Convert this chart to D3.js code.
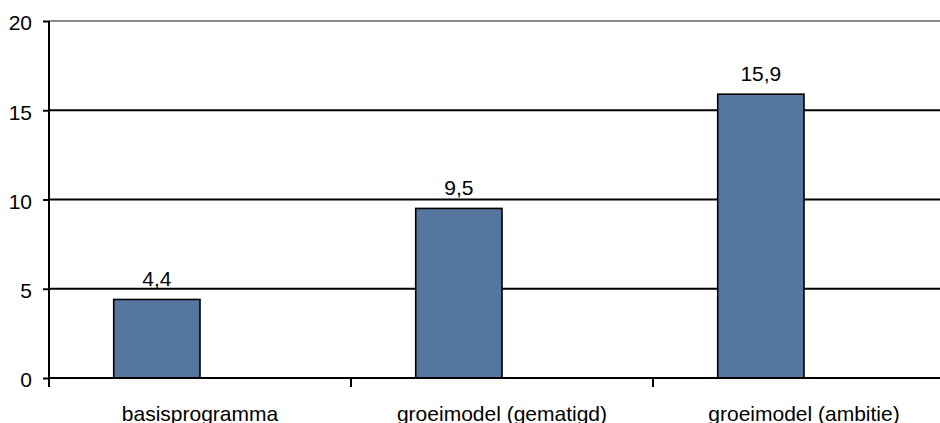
<!DOCTYPE html>
<html>
<head>
<meta charset="utf-8">
<script src="https://cdn.jsdelivr.net/npm/d3@7"></script>
<style>
  html, body { margin: 0; padding: 0; background: #ffffff; }
  svg { display: block; font-family: "Liberation Sans", Arial, sans-serif; }
</style>
</head>
<body>
<svg id="chart" width="940" height="423"></svg>
<script>
// Scenario categories and their values
const categories = ["basisprogramma", "groeimodel (gematigd)", "groeimodel (ambitie)"];
const values = [4.4, 9.5, 15.9];
// Slots per category: the filled series plus an empty companion slot
const seriesSlots = ["waarde", "leeg"];
const yTicks = [0, 5, 10, 15, 20];

const svg = d3.select("#chart");
const fontSize = 21;

const plotLeft = 49, plotTop = 21, plotBottom = 378;
const bandStep = 302;

const x = d3.scaleBand()
  .domain(categories)
  .range([plotLeft, plotLeft + bandStep * categories.length])
  .paddingInner(0)
  .paddingOuter(0);

const xSlot = d3.scaleBand()
  .domain(seriesSlots)
  .range([0, x.bandwidth()])
  .paddingInner(0)
  .paddingOuter(0.75);

const y = d3.scaleLinear().domain([0, 20]).range([plotBottom, plotTop]);

const nl = d3.formatLocale({ decimal: ",", thousands: ".", grouping: [3], currency: ["€ ", ""] });
const fmt = nl.format(".1f");

// Horizontal gridlines (the top line is the grey plot border)
svg.append("g")
  .selectAll("line")
  .data(yTicks.filter(t => t > 0))
  .join("line")
  .attr("x1", plotLeft)
  .attr("x2", 940)
  .attr("y1", d => y(d))
  .attr("y2", d => y(d))
  .attr("stroke", d => d === 20 ? "#8a8a8a" : "#000")
  .attr("stroke-width", 2);

// Bars
svg.append("g")
  .selectAll("rect")
  .data(values)
  .join("rect")
  .attr("x", (d, i) => x(categories[i]) + xSlot("waarde"))
  .attr("y", d => y(d))
  .attr("width", xSlot.bandwidth())
  .attr("height", d => y(0) - y(d))
  .attr("fill", "#54769f")
  .attr("stroke", "#000")
  .attr("stroke-width", 1.6);

// Value labels
svg.append("g")
  .selectAll("text")
  .data(values)
  .join("text")
  .attr("x", (d, i) => x(categories[i]) + xSlot("waarde") + xSlot.bandwidth() / 2)
  .attr("y", d => y(d) - 13)
  .attr("text-anchor", "middle")
  .attr("font-size", fontSize)
  .attr("fill", "#000")
  .text(d => fmt(d));

// Y axis
const yAxis = svg.append("g")
  .attr("transform", `translate(${plotLeft},0)`)
  .call(d3.axisLeft(y).tickValues(yTicks).tickSize(6).tickPadding(11).tickFormat(d3.format("d")));
yAxis.select(".domain").attr("stroke", "#000").attr("stroke-width", 2)
  .attr("d", `M0,${plotTop}V${plotBottom + 9}`);
yAxis.selectAll(".tick line").attr("stroke", "#000").attr("stroke-width", 2);
yAxis.selectAll(".tick text")
  .attr("font-size", fontSize)
  .attr("font-family", "'Liberation Sans', Arial, sans-serif")
  .attr("fill", "#000")
  .attr("dy", "0.42em");

// X axis line with ticks at category boundaries
const xAxisG = svg.append("g");
xAxisG.append("line")
  .attr("x1", plotLeft).attr("x2", 940)
  .attr("y1", y(0)).attr("y2", y(0))
  .attr("stroke", "#000").attr("stroke-width", 2);
xAxisG.selectAll("line.tick")
  .data(categories.slice(1))
  .join("line")
  .attr("class", "tick")
  .attr("x1", d => x(d)).attr("x2", d => x(d))
  .attr("y1", y(0)).attr("y2", y(0) + 9)
  .attr("stroke", "#000").attr("stroke-width", 2);

// Category labels
xAxisG.selectAll("text")
  .data(categories)
  .join("text")
  .attr("x", d => x(d) + x.bandwidth() / 2)
  .attr("y", 421)
  .attr("text-anchor", "middle")
  .attr("font-size", fontSize)
  .attr("fill", "#000")
  .text(d => d);
</script>
</body>
</html>
